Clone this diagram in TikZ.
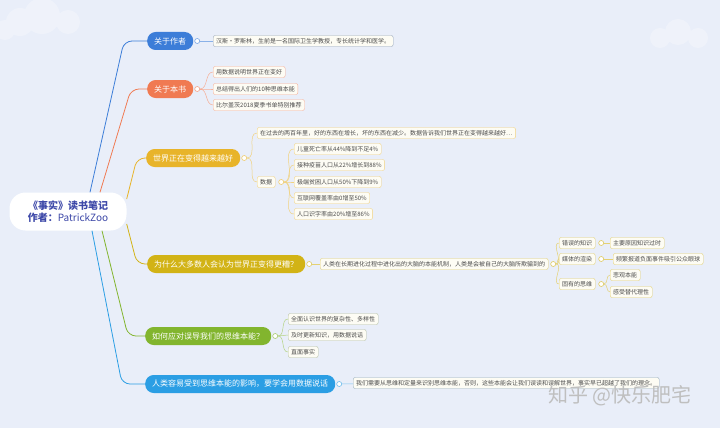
\documentclass[tikz,border=0pt]{standalone}
\usepackage{fontspec}
\newfontfamily\cjk{Noto Sans CJK SC}
\usetikzlibrary{positioning}
\definecolor{bgcol}{HTML}{E9EEF9}
\definecolor{cauthor}{HTML}{3C7DD8}
\definecolor{cbook}{HTML}{F07A52}
\definecolor{cworld}{HTML}{E8B42A}
\definecolor{cwhy}{HTML}{D2B316}
\definecolor{chow}{HTML}{82B52E}
\definecolor{cdata}{HTML}{2B9EE4}
\definecolor{ctitle}{HTML}{3D48A8}
\definecolor{leafbg}{HTML}{FDFCF4}

\begin{document}
\begin{tikzpicture}[x=1pt,y=-1pt,
	branch/.style={fill=#1, text=white, rounded corners=8.5pt, minimum height=18pt, inner xsep=7pt, inner ysep=0pt, anchor=west, font=\cjk\fontsize{8}{9}\selectfont},
	dot/.style={circle, draw=#1, fill=white, line width=0.6pt, inner sep=0pt, minimum size=5pt},
	leaf/.style={draw=#1, fill=leafbg, rounded corners=2pt, inner xsep=3pt, inner ysep=0pt, minimum height=11pt, anchor=west, text=black!70, font=\cjk\fontsize{6}{7}\selectfont},
	link/.style={draw=#1, line width=0.8pt, rounded corners=8pt},
	twig/.style={draw=#1, line width=0.5pt}]
	\useasboundingbox (0,0) rectangle (720,428);
	\fill[bgcol] (0,0) rectangle (720,428);
	\fill[white, opacity=.28] (20,22) circle (14) (42,16) circle (18) (68,22) circle (12) (5,30) circle (10);
	\fill[white, opacity=.28] (660,38) circle (10) (678,32) circle (13) (698,38) circle (10);
	%
	\node[fill=white, rounded corners=16pt, minimum width=117pt, minimum height=38pt, align=center, text=ctitle, font=\cjk\fontsize{10}{12.5}\selectfont] (root) at (68,211.5) {\bfseries 《事实》读书笔记\\{\bfseries 作者：}PatrickZoo};
	%
	\node[branch=cauthor] (b1) at (147,41) {关于作者};
	\node[branch=cbook] (b2) at (147,89) {关于本书};
	\node[branch=cworld] (b3) at (146,158) {世界正在变得越来越好};
	\node[branch=cwhy] (b4) at (147,264) {为什么大多数人会认为世界正变得更糟？};
	\node[branch=chow] (b5) at (145,336) {如何应对误导我们的思维本能？};
	\node[branch=cdata] (b6) at (145,384) {人类容易受到思维本能的影响，要学会用数据说话};
	\draw[link=cauthor] ([xshift=22pt]root.north) -- (124,41) -- (b1);
	\draw[link=cbook] ([xshift=32pt]root.north) -- (131,89) -- (b2);
	\draw[link=cworld] (root.12) -- (137,158) -- (b3);
	\draw[link=cwhy] (root.-12) -- (137,264) -- (b4);
	\draw[link=chow] ([xshift=34pt]root.south) -- (128,336) -- (b5);
	\draw[link=cdata] ([xshift=24pt]root.south) -- (122,384) -- (b6);
	%
	\node[dot=cauthor!70] (d1) [right=1pt of b1] {};
	\node[leaf=cauthor!45!black!45] (a1) at (213,41) {汉斯·罗斯林，生前是一名国际卫生学教授，专长统计学和医学。};
	\draw[twig=cauthor!60] (d1) -- (a1);
	%
	\node[dot=cbook!70] (d2) [right=1pt of b2] {};
	\node[leaf=cbook!60] (c21) at (213,72) {用数据说明世界正在变好};
	\node[leaf=cbook!60] (c22) at (213,89) {总结得出人们的10种思维本能};
	\node[leaf=cbook!60] (c23) at (213,105) {比尔盖茨2018夏季书单特别推荐};
	\foreach \c in {c21,c22,c23}
		\draw[twig=cbook!60] (d2) to[out=0,in=180] (\c.west);
	%
	\node[dot=cworld!70] (d3) [right=1pt of b3] {};
	\node[leaf=cworld!60] (c31) at (257,133) {在过去的两百年里，好的东西在增长，坏的东西在减少。数据告诉我们世界正在变得越来越好…};
	\node[leaf=cworld!60] (c32) at (257,182) {数据};
	\draw[twig=cworld!60] (d3) to[out=0,in=180] (c31.west);
	\draw[twig=cworld!60] (d3) to[out=0,in=180] (c32.west);
	\node[dot=cworld!70] (d32) [right=3pt of c32] {};
	\node[leaf=cworld!60] (e1) at (294,149) {儿童死亡率从44\%降到不足4\%};
	\node[leaf=cworld!60] (e2) at (294,165) {接种疫苗人口从22\%增长到88\%};
	\node[leaf=cworld!60] (e3) at (294,182) {极端贫困人口从50\%下降到9\%};
	\node[leaf=cworld!60] (e4) at (294,198) {互联网覆盖率由0增至50\%};
	\node[leaf=cworld!60] (e5) at (294,214) {人口识字率由20\%增至86\%};
	\foreach \e in {e1,e2,e3,e4,e5}
		\draw[twig=cworld!60] (d32) to[out=0,in=180] (\e.west);
	%
	\node[dot=cwhy!70] (d4) [right=1pt of b4] {};
	\node[leaf=cwhy!60] (c41) at (320,264) {人类在长期进化过程中进化出的大脑的本能机制，人类是会被自己的大脑所欺骗到的};
	\draw[twig=cwhy!60] (d4) -- (c41);
	\node[dot=cwhy!70] (d41) [right=2pt of c41] {};
	\node[leaf=cwhy!60] (f1) at (559,243) {错误的知识};
	\node[leaf=cwhy!60] (f2) at (559,259) {媒体的渲染};
	\node[leaf=cwhy!60] (f3) at (559,284) {固有的思维};
	\foreach \f in {f1,f2,f3}
		\draw[twig=cwhy!60] (d41) to[out=0,in=180] (\f.west);
	\node[dot=cwhy!70] (g1) [right=3pt of f1] {};
	\node[dot=cwhy!70] (g2) [right=3pt of f2] {};
	\node[dot=cwhy!70] (g3) [right=3pt of f3] {};
	\node[leaf=cwhy!60] (h1) at (610,243) {主要原因知识过时};
	\node[leaf=cwhy!60] (h2) at (613,259) {频繁报道负面事件吸引公众眼球};
	\node[leaf=cwhy!60] (h3) at (610,275) {悲观本能};
	\node[leaf=cwhy!60] (h4) at (610,292) {感受替代理性};
	\draw[twig=cwhy!60] (g1) -- (h1);
	\draw[twig=cwhy!60] (g2) -- (h2);
	\draw[twig=cwhy!60] (g3) to[out=0,in=180] (h3.west);
	\draw[twig=cwhy!60] (g3) to[out=0,in=180] (h4.west);
	%
	\node[dot=chow!70] (d5) [right=1pt of b5] {};
	\node[leaf=chow!55!black!40] (k1) at (288,319) {全面认识世界的复杂性、多样性};
	\node[leaf=chow!55!black!40] (k2) at (288,335) {及时更新知识，用数据说话};
	\node[leaf=chow!55!black!40] (k3) at (288,352) {直面事实};
	\foreach \k in {k1,k2,k3}
		\draw[twig=chow!60] (d5) to[out=0,in=180] (\k.west);
	%
	\node[dot=cdata!70] (d6) [right=1pt of b6] {};
	\node[leaf=cdata!45!black!45] (m1) at (353,383) {我们需要从思维和定量来识别思维本能，否则，这些本能会让我们误读和误解世界，事实早已超越了我们的理念。};
	\draw[twig=cdata!60] (d6) -- (m1);
	%
	\node[text=black!25, font=\cjk\fontsize{20}{22}\selectfont] (mark) at (620,396) {知乎 @快乐肥宅};
\end{tikzpicture}
\end{document}
